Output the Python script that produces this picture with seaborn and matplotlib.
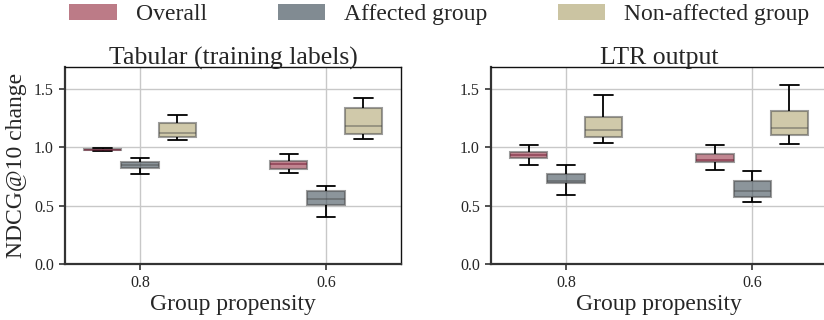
import numpy as np
import pandas as pd
import matplotlib
matplotlib.use("Agg")
import matplotlib.pyplot as plt
import seaborn as sns
from matplotlib.patches import Patch

sns.set_style("white")
plt.rcParams['font.family'] = ['Liberation Serif', 'DejaVu Serif']
plt.rcParams['mathtext.fontset'] = 'stix'

propensities = ["0.8", "0.6"]
groups = ["Overall", "Affected group", "Non-affected group"]
panel_titles = ["Tabular (training labels)", "LTR output"]

# box stats per box: [lower whisker, q1, median, q3, upper whisker]
tab_overall_08 = [0.972, 0.975, 0.980, 0.990, 0.995]
tab_affected_08 = [0.774, 0.822, 0.851, 0.879, 0.913]
tab_nonaff_08 = [1.063, 1.091, 1.120, 1.211, 1.277]
tab_overall_06 = [0.777, 0.811, 0.858, 0.883, 0.940]
tab_affected_06 = [0.403, 0.506, 0.557, 0.626, 0.666]
tab_nonaff_06 = [1.069, 1.111, 1.185, 1.340, 1.420]

ltr_overall_08 = [0.851, 0.906, 0.932, 0.963, 1.020]
ltr_affected_08 = [0.591, 0.694, 0.715, 0.774, 0.849]
ltr_nonaff_08 = [1.034, 1.091, 1.149, 1.257, 1.454]
ltr_overall_06 = [0.803, 0.874, 0.889, 0.940, 1.017]
ltr_affected_06 = [0.534, 0.577, 0.623, 0.711, 0.797]
ltr_nonaff_06 = [1.029, 1.103, 1.163, 1.311, 1.534]

panels = {
    "Tabular (training labels)": {
        ("0.8", "Overall"): tab_overall_08,
        ("0.8", "Affected group"): tab_affected_08,
        ("0.8", "Non-affected group"): tab_nonaff_08,
        ("0.6", "Overall"): tab_overall_06,
        ("0.6", "Affected group"): tab_affected_06,
        ("0.6", "Non-affected group"): tab_nonaff_06,
    },
    "LTR output": {
        ("0.8", "Overall"): ltr_overall_08,
        ("0.8", "Affected group"): ltr_affected_08,
        ("0.8", "Non-affected group"): ltr_nonaff_08,
        ("0.6", "Overall"): ltr_overall_06,
        ("0.6", "Affected group"): ltr_affected_06,
        ("0.6", "Non-affected group"): ltr_nonaff_06,
    },
}

base_colors = {"Overall": "#9c3c4e", "Affected group": "#46555e", "Non-affected group": "#b3a877"}
box_alpha = 0.62
legend_alpha = 0.68

fig = plt.figure(figsize=(8.24, 3.2), dpi=100)
ax_pos = [[0.0789, 0.175, 0.4078, 0.6156], [0.596, 0.175, 0.4078, 0.6156]]

for i, title in enumerate(panel_titles):
    ax = fig.add_axes(ax_pos[i])
    rows = []
    for (p, g), vals in panels[title].items():
        for v in vals:
            rows.append({"propensity": p, "group": g, "value": v})
    df = pd.DataFrame(rows)
    sns.boxplot(data=df, x="propensity", y="value", hue="group",
                order=propensities, hue_order=groups, palette=base_colors,
                width=0.6, whis=(0, 100), linewidth=1.3, legend=False, ax=ax,
                zorder=3)
    for cont, g in zip(ax.containers, groups):
        for b in cont.boxes:
            b.set_facecolor(matplotlib.colors.to_rgba(base_colors[g], box_alpha))
            b.set_edgecolor((0.3, 0.3, 0.3, 0.55))
            b.set_linewidth(1.5)
        for m in cont.medians:
            m.set_color((0.25, 0.25, 0.25, 0.45) if g != "Overall" else (0.45, 0.1, 0.2, 0.6))
            m.set_linewidth(1.2)
        for w in cont.whiskers:
            w.set_color("black")
            w.set_linewidth(1.3)
        for c in cont.caps:
            c.set_color("black")
            c.set_linewidth(1.3)
    ax.set_xlim(-0.403, 1.403)
    ax.set_ylim(0, 1.69)
    ax.set_yticks([0.0, 0.5, 1.0, 1.5])
    ax.set_yticklabels(["0.0", "0.5", "1.0", "1.5"])
    ax.grid(True, color="#c8c8c8", linewidth=1.0, zorder=0)
    ax.set_axisbelow(True)
    ax.tick_params(axis="both", labelsize=11.5, length=4, width=1.2, color="#333333",
                   direction="out", left=True, bottom=True, pad=4)
    for s in ["left", "bottom"]:
        ax.spines[s].set_color("#333333")
        ax.spines[s].set_linewidth(1.6)
    for s in ["top", "right"]:
        ax.spines[s].set_color("#111111")
        ax.spines[s].set_linewidth(1.0)
    if i == 1:
        ax.spines["right"].set_visible(False)
    ax.set_title(title, fontsize=18.5, pad=2)
    ax.set_xlabel("Group propensity", fontsize=17, labelpad=2)
    if i == 0:
        ax.set_ylabel("NDCG@10 change", fontsize=17, labelpad=5)
    else:
        ax.set_ylabel("")

handles = [Patch(facecolor=matplotlib.colors.to_rgba(base_colors[g], legend_alpha), edgecolor="none", label=g)
           for g in groups]
fig.legend(handles=handles, loc="center", bbox_to_anchor=(0.533, 0.955), ncol=3,
           frameon=False, fontsize=17, columnspacing=3.0, handletextpad=0.8,
           handlelength=2.0, handleheight=0.7, borderpad=0)

fig.savefig("out.png", dpi=100)
